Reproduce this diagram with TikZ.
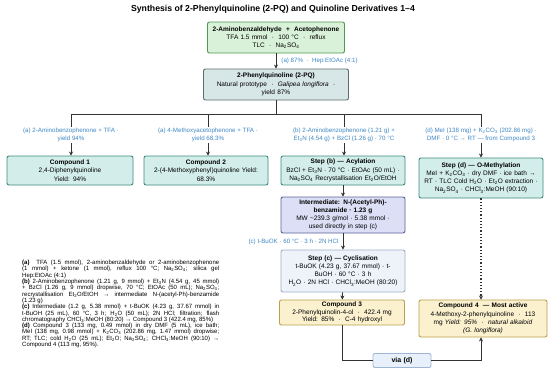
\documentclass[tikz,border=0pt]{standalone}
\usepackage{fontspec}
\setmainfont{Liberation Sans}
\newfontfamily\notefont[FakeStretch=0.98]{Liberation Sans}
\usetikzlibrary{arrows.meta,positioning}
\definecolor{gfill}{HTML}{D9F1D9}
\definecolor{gdraw}{HTML}{4E9A50}
\definecolor{pqfill}{HTML}{D7E6E6}
\definecolor{pqdraw}{HTML}{5E6E6E}
\definecolor{tfill}{HTML}{D3EEEA}
\definecolor{tdraw}{HTML}{3E8A80}
\definecolor{ifill}{HTML}{DCDFF5}
\definecolor{idraw}{HTML}{5B6199}
\definecolor{cfill}{HTML}{EEF3FA}
\definecolor{cdraw}{HTML}{A0B0C8}
\definecolor{yfill}{HTML}{FBF1CF}
\definecolor{ydraw}{HTML}{B9A14A}
\definecolor{vfill}{HTML}{E8F1FB}
\definecolor{vdraw}{HTML}{9FB5D5}
\definecolor{lblue}{HTML}{3F88C5}
\definecolor{lnk}{HTML}{333333}
\newcommand\boxfs{\fontsize{6.5}{8.2}\selectfont}
\newcommand\lblfs{\fontsize{6.2}{8}\selectfont}
\newcommand\notefs{\notefont\fontsize{6.1}{6.3}\selectfont}
\newcommand\sbs[1]{\textsubscript{#1}}
\tikzset{
  basebox/.style={draw, rounded corners=2pt, line width=0.9pt, align=center,
    inner sep=1pt, font=\boxfs},
  greenbox/.style={basebox, fill=gfill, draw=gdraw},
  pqbox/.style={basebox, fill=pqfill, draw=pqdraw},
  tealbox/.style={basebox, fill=tfill, draw=tdraw},
  interbox/.style={basebox, fill=ifill, draw=idraw},
  cycbox/.style={basebox, fill=cfill, draw=cdraw},
  yelbox/.style={basebox, fill=yfill, draw=ydraw},
  viabox/.style={basebox, fill=vfill, draw=vdraw},
  lbl/.style={font=\lblfs, text=lblue, align=center, inner sep=1pt},
  conn/.style={draw=lnk, line width=0.9pt},
  arr/.style={conn, -{Stealth[length=4pt,width=4pt]}},
}
\begin{document}
\begin{tikzpicture}[x=1pt,y=-1pt]
\useasboundingbox (0,0) rectangle (550,375);
\fill[white] (0,0) rectangle (550,375);

\node (title) at (273,9) {\fontsize{8.7}{10}\selectfont\bfseries Synthesis of 2-Phenylquinoline (2-PQ) and Quinoline Derivatives 1--4};

\node[greenbox, text width=135pt, minimum height=31pt] (A) at (276,37.5)
  {\textbf{2-Aminobenzaldehyde~ + ~Acetophenone}\\TFA 1.5 mmol ~·~ 100 °C ~·~ reflux\\TLC ~·~ Na\sbs{2}SO\sbs{4}};
\node[pqbox, text width=143pt, minimum height=31pt] (B) at (276,84.5)
  {\textbf{2-Phenylquinoline (2-PQ)}\\Natural prototype ~·~ \textit{Galipea longiflora} ~·\\yield 87\%};
\draw[arr] (A) -- (B) node[lbl, midway, anchor=west, xshift=4pt] (la) {(a) 87\% ~·~ Hep:EtOAc (4:1)};

\coordinate (bus) at (276,114);
\coordinate (j1) at (71,114);
\coordinate (j2) at (208,114);
\coordinate (j3) at (344,114);
\coordinate (j4) at (481,114);
\draw[conn] (B) -- (bus);
\draw[conn] (j1) -- (j4);

\node[lbl] (l1) at (71,135) {(a) 2-Aminobenzophenone + TFA ·\\yield 94\%};
\node[lbl] (l2) at (208,135) {(a) 4-Methoxyacetophenone + TFA ·\\yield 68.3\%};
\node[lbl] (l3) at (344,135) {(b) 2-Aminobenzophenone (1.21 g) +\\Et\sbs{3}N (4.54 g) + BzCl (1.26 g) · 70 °C};
\node[lbl] (l4) at (481,135) {(d) MeI (138 mg) + K\sbs{2}CO\sbs{3} (202.86 mg) ·\\DMF · 0 °C → RT — from Compound 3};

\node[tealbox, text width=124pt, minimum height=29pt] (c1) at (70,170.5)
  {\textbf{Compound 1}\\2,4-Diphenylquinoline\\Yield: 94\%};
\node[tealbox, text width=122pt, minimum height=29pt] (c2) at (206,170.5)
  {\textbf{Compound 2}\\2-(4-Methoxyphenyl)quinoline Yield:\\68.3\%};
\node[tealbox, text width=122pt, minimum height=29pt] (sb) at (343,170.5)
  {\textbf{Step (b) — Acylation}\\BzCl + Et\sbs{3}N · 70 °C · EtOAc (50 mL) ·\\Na\sbs{2}SO\sbs{4} Recrystallisation Et\sbs{2}O/EtOH};
\node[tealbox, text width=122pt, minimum height=40pt] (sd) at (481,178)
  {\textbf{Step (d) — O-Methylation}\\MeI + K\sbs{2}CO\sbs{3} · dry DMF · ice bath →\\RT · TLC Cold H\sbs{2}O · Et\sbs{2}O extraction ·\\Na\sbs{2}SO\sbs{4} · CHCl\sbs{3}:MeOH (90:10)};

\draw[conn] (j1) -- (l1);
\draw[conn] (j2) -- (l2);
\draw[conn] (j3) -- (l3);
\draw[conn] (j4) -- (l4);
\draw[arr] (l1) -- (l1 |- c1.north);
\draw[arr] (l2) -- (l2 |- c2.north);
\draw[arr] (l3) -- (l3 |- sb.north);
\draw[arr] (l4) -- (l4 |- sd.north);

\node[interbox, text width=122pt, minimum height=36pt] (im) at (343,215)
  {\textbf{Intermediate: N-(Acetyl-Ph)-}\\\textbf{benzamide · 1.23 g}\\MW \textasciitilde239.3 g/mol · 5.38 mmol ·\\used directly in step (c)};
\node[cycbox, text width=122pt, minimum height=42pt] (sc) at (343,271)
  {\textbf{Step (c) — Cyclisation}\\t-BuOK (4.23 g, 37.67 mmol) · t-\\BuOH · 60 °C · 3 h\\H\sbs{2}O · 2N HCl · CHCl\sbs{3}:MeOH (80:20)};
\node[yelbox, text width=123pt, minimum height=25pt, font=\fontsize{6.5}{7.8}\selectfont] (c3) at (342,312.5)
  {\textbf{Compound 3}\\2-Phenylquinolin-4-ol ~·~ 422.4 mg\\Yield: 85\% ~·~ C-4 hydroxyl};
\node[yelbox, text width=126pt, minimum height=37pt] (c4) at (483,318.5)
  {\textbf{Compound 4 ~— Most active}\\4-Methoxy-2-phenylquinoline ~·~ 113\\mg \textit{Yield: 95\%} ~·~ \textit{natural alkaloid}\\\textit{(G. longiflora)}};
\node[viabox, text width=56pt, minimum height=14pt, font=\fontsize{7}{8}\selectfont\bfseries] (via) at (402,360.5) {via (d)};

\draw[arr] (sb) -- (im);
\draw[arr] (im) -- (sc) node[lbl, pos=0.5, anchor=east, xshift=-3pt] (lc) {(c) t-BuOK · 60 °C · 3 h · 2N HCl};
\draw[arr] (sc) -- (c3);
\draw[conn, line width=1.2pt, dotted, -{Stealth[length=4pt,width=4pt]}] (sd.south) -- (sd.south |- c4.north);
\draw[conn] (c3.south) |- (via.west);
\draw[arr] (via.east) -| (sd.south |- c4.south);

\node[anchor=north west, text width=197pt, align=justify, font=\notefs, inner sep=0pt] (notes) at (22,260)
{\textbf{(a)}~ TFA (1.5 mmol), 2-aminobenzaldehyde or 2-aminobenzophenone\linebreak
(1 mmol) + ketone (1 mmol), reflux 100 °C; Na\sbs{2}SO\sbs{4}; silica gel\linebreak
Hep:EtOAc (4:1)\\
\textbf{(b)} 2-Aminobenzophenone (1.21 g, 9 mmol) + Et\sbs{3}N (4.54 g, 45 mmol)\linebreak
+ BzCl (1.26 g, 9 mmol) dropwise, 70 °C; EtOAc (50 mL); Na\sbs{2}SO\sbs{4};\linebreak
recrystallisation Et\sbs{2}O/EtOH → intermediate N-(acetyl-Ph)-benzamide\linebreak
(1.23 g)\\
\textbf{(c)} Intermediate (1.2 g, 5.38 mmol) + t-BuOK (4.23 g, 37.67 mmol) in\linebreak
t-BuOH (25 mL), 60 °C, 3 h; H\sbs{2}O (50 mL); 2N HCl; filtration; flash\linebreak
chromatography CHCl\sbs{3}:MeOH (80:20) → Compound 3 (422.4 mg, 85\%)\\
\textbf{(d)} Compound 3 (133 mg, 0.49 mmol) in dry DMF (5 mL), ice bath;\linebreak
MeI (138 mg, 0.98 mmol) + K\sbs{2}CO\sbs{3} (202.86 mg, 1.47 mmol) dropwise;\linebreak
RT; TLC; cold H\sbs{2}O (25 mL); Et\sbs{2}O; Na\sbs{2}SO\sbs{4}; CHCl\sbs{3}:MeOH (90:10) →\linebreak
Compound 4 (113 mg, 95\%).};
\end{tikzpicture}
\end{document}
